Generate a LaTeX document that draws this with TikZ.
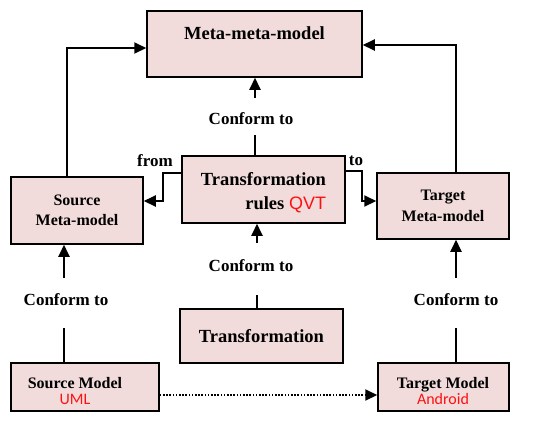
\documentclass[tikz,border=0pt]{standalone}
\usepackage{fontspec}
\setmainfont{Liberation Serif}
\newfontfamily\qvtfont{Liberation Sans}
\newfontfamily\calfont{Carlito}
\usetikzlibrary{arrows.meta}
\definecolor{boxfill}{HTML}{F2DCDB}
\definecolor{redtext}{HTML}{FF1010}
\begin{document}
\begin{tikzpicture}[x=1pt,y=-1pt,
  box/.style={draw=black, line width=1.5pt, fill=boxfill, inner sep=0pt},
  conn/.style={line width=2pt},
  arr/.style={conn, -{Triangle[length=12pt,width=11pt]}},
  lbl/.style={font=\bfseries\fontsize{17}{20}\selectfont, inner sep=0pt},
  boxtext/.style={inner sep=0pt, align=center}]
\useasboundingbox (0,0) rectangle (557,432);
% boxes
\node[box, minimum width=215pt, minimum height=66pt] (mmm) at (254.5,44) {};
\node[boxtext, font=\bfseries\fontsize{18.5}{22}\selectfont] (mmmt) at (254.5,33) {Meta-meta-model};
\node[box, minimum width=163pt, minimum height=67pt] (rules) at (263.5,189.5) {};
\node[boxtext, align=right, font=\bfseries\fontsize{18.5}{24}\selectfont] (rulest) at (263.5,192.5)
      {Transformation\\rules {\qvtfont\mdseries\fontsize{18}{24}\selectfont\color{redtext}QVT}};
\node[box, minimum width=132pt, minimum height=67pt, align=center,
      font=\bfseries\fontsize{16}{20}\selectfont] (smeta) at (77,210.5) {Source\\Meta-model};
\node[box, minimum width=132pt, minimum height=66pt, align=center,
      font=\bfseries\fontsize{16}{21}\selectfont] (tmeta) at (443,206) {Target\\Meta-model};
\node[box, minimum width=163pt, minimum height=54pt,
      font=\bfseries\fontsize{18.5}{22}\selectfont] (trans) at (261.5,336) {Transformation};
\node[box, minimum width=148pt, minimum height=48pt] (smodel) at (85,387) {};
\node[boxtext, font=\bfseries\fontsize{16}{16}\selectfont] (smodelt) at (75,391)
      {Source Model\\{\calfont\mdseries\color{redtext}UML}};
\node[box, minimum width=131pt, minimum height=48pt] (tmodel) at (443.5,387) {};
\node[boxtext, font=\bfseries\fontsize{16}{16}\selectfont] (tmodelt) at (443,391)
      {Target Model\\{\calfont\mdseries\color{redtext}Android}};
% labels
\node[lbl] (c1) at (251,119) {Conform to};
\node[lbl] (c2) at (251,266) {Conform to};
\node[lbl] (c3) at (66,300) {Conform to};
\node[lbl] (c4) at (456,300) {Conform to};
\node[lbl] (from) at (155,161) {from};
\node[lbl] (to) at (356,161) {to};
% connector points
\coordinate (c1a) at (255,135); \coordinate (c1b) at (255,98);
\coordinate (c2a) at (257,295); \coordinate (c2b) at (257,243);
\coordinate (c3a) at (64,328);  \coordinate (c3b) at (64,278);
\coordinate (c4a) at (456,328); \coordinate (c4b) at (456,278);
\coordinate (tl) at (67,48); \coordinate (tr) at (456,45);
\coordinate (f1) at (163,173); \coordinate (f2) at (163,201);
\coordinate (t1) at (362,171); \coordinate (t2) at (362,201);
\coordinate (dd) at (0,395);
% connectors
\draw[conn] (rules.north -| c1a) -- (c1a);
\draw[arr] (c1b) -- (c1b |- mmm.south);
\draw[conn] (trans.north -| c2a) -- (c2a);
\draw[arr] (c2b) -- (c2b |- rules.south);
\draw[conn] (smodel.north -| c3a) -- (c3a);
\draw[arr] (c3b) -- (c3b |- smeta.south);
\draw[conn] (tmodel.north -| c4a) -- (c4a);
\draw[arr] (c4b) -- (c4b |- tmeta.south);
\draw[arr] (smeta.north -| tl) -- (tl) -- (tl -| mmm.west);
\draw[arr] (tmeta.north -| tr) -- (tr) -- (tr -| mmm.east);
\draw[arr] (f1 -| rules.west) -- (f1) -- (f2) -- (f2 -| smeta.east);
\draw[arr] (t1 -| rules.east) -- (t1) -- (t2) -- (t2 -| tmeta.west);
\draw[arr, dash pattern=on 1.6pt off 1.6pt] (dd -| smodel.east) -- (dd -| tmodel.west);
\end{tikzpicture}
\end{document}
